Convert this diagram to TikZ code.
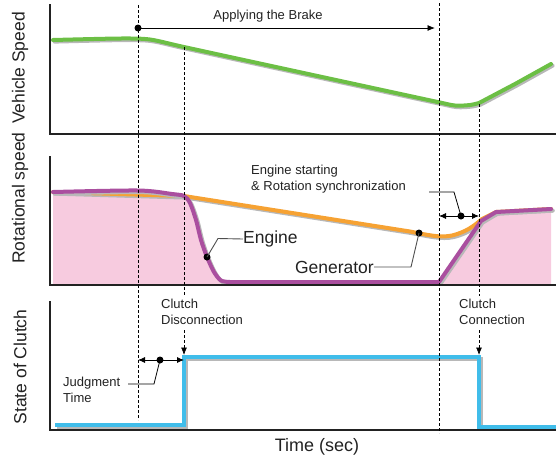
\documentclass[tikz,border=0pt]{standalone}
\usepackage{fontspec}
\setmainfont{Liberation Sans}
\usetikzlibrary{arrows.meta}
\definecolor{speedgreen}{HTML}{6CBF45}
\definecolor{genorange}{HTML}{F6A233}
\definecolor{engpurple}{HTML}{AA4F9F}
\definecolor{fillpink}{HTML}{F7CBDF}
\definecolor{clutchblue}{HTML}{40BDEA}
\definecolor{shadowgray}{HTML}{B8B8B8}
\definecolor{inkgray}{HTML}{222222}
\tikzset{
  axisline/.style={line width=2.4pt, inkgray, line cap=rect},
  guide/.style={line width=0.7pt, black, dash pattern=on 3pt off 2pt},
  curve/.style={line width=4pt, line join=round, line cap=round},
  shade/.style={curve, shadowgray, shift={(1.6,1.6)}},
  leader/.style={line width=0.9pt, inkgray!80},
  tip/.style={-{Latex[length=7.5pt,width=6pt]}},
  twotip/.style={{Latex[length=7pt,width=6pt]}-{Latex[length=7pt,width=6pt]}, line width=0.8pt},
  dot/.style={circle, fill=black, inner sep=0pt, minimum size=7pt},
  small/.style={font=\fontsize{13}{15.5}\selectfont, text=inkgray, inner sep=0pt},
  big/.style={font=\fontsize{17.5}{20}\selectfont, text=inkgray, inner sep=0pt},
  ylab/.style={font=\fontsize{17.5}{20}\selectfont, text=inkgray, rotate=90, inner sep=0pt},
}
\begin{document}
\begin{tikzpicture}[x=1pt, y=-1pt]
\useasboundingbox (0,0) rectangle (556,459);

% ---------- curve paths ----------
\def\speedpath{plot[smooth, tension=0.45] coordinates {(53,40) (120,38.5) (150,39.5) (184,47) (276,67) (433,101) (455,105.5) (470,105) (479,103)} -- (515,84) -- (551,64)}
\def\enginepath{plot[smooth, tension=0.5] coordinates {(53,192) (138,190.5) (172,194) (184,196) (190,203) (196,220) (201,240) (207,257) (214,272) (221,280.5) (230,282)} -- (439,282) -- (481,221) -- (496,212) -- (551,209)}
\def\genpath{(53,192) -- (184,196) -- (410,231.5) .. controls (428,235) and (440,238) .. (452,235.5) .. controls (466,232) and (474,226) .. (482,219) -- (496,212) -- (551,209)}

% ---------- Vehicle speed panel ----------
\draw[shade] \speedpath;
\draw[curve, speedgreen] \speedpath;

% ---------- Rotational speed panel ----------
\fill[fillpink] \enginepath -- (551,285) -- (53,285) -- cycle;
\draw[shade] \genpath;
\draw[curve, genorange] \genpath;
\draw[shade] \enginepath;
\draw[curve, engpurple] \enginepath;

% ---------- Clutch panel ----------
\draw[curve, shadowgray, line cap=butt, line join=miter, shift={(1.6,1.6)}] (55,425) -- (184,425) -- (184,357) -- (479,357) -- (479,427) -- (556,427);

% ---------- axes ----------
\draw[axisline] (50,5) -- (50,134) -- (556,134);
\draw[axisline] (50,157) -- (50,285) -- (556,285);
\draw[axisline] (50,302) -- (50,430) -- (556,430);

\draw[curve, clutchblue, line cap=butt, line join=miter] (55,425) -- (184,425) -- (184,357) -- (479,357) -- (479,427) -- (556,427);

% ---------- timing guides ----------
\draw[guide] (138,5) -- (138,420);
\draw[guide] (184,47) -- (184,296);
\draw[guide] (439,3) -- (439,433);
\draw[guide] (479,104) -- (479,296);
\coordinate (discA) at (184,330);
\coordinate (discB) at (184,355);
\coordinate (connA) at (479,330);
\coordinate (connB) at (479,355);
\draw[guide, tip] (discA) -- (discB);
\draw[guide, tip] (connA) -- (connB);

% ---------- braking interval ----------
\node[dot] (brakeDot) at (138,28) {};
\coordinate (brakeEnd) at (435,28);
\draw[line width=0.8pt, tip] (brakeDot.center) -- (brakeEnd);
\node[small] (brake) at (268,16) {Applying the Brake};

% ---------- engine / generator labels ----------
\node[dot] (engDot) at (207,257) {};
\node[big, anchor=west] (engine) at (243,239) {Engine};
\draw[leader] (engDot.center) -- (218,238.5) -- (engine.west);

\node[dot] (genDot) at (419,233) {};
\node[big, anchor=east] (generator) at (374,267) {Generator};
\draw[leader] (genDot.center) -- (411,267) -- (generator.east);

% ---------- synchronization interval ----------
\coordinate (syncL) at (439,216);
\coordinate (syncR) at (479,216);
\draw[twotip] (syncL) -- (syncR);
\node[dot] (syncDot) at (461,216) {};
\node[small, anchor=north west, align=left] (sync) at (251,165) {Engine starting\\\& Rotation synchronization};
\draw[line width=0.8pt] (syncDot.center) -- (454,192) -- (429,192);

% ---------- judgment interval ----------
\coordinate (judgeL) at (138,360);
\coordinate (judgeR) at (184,360);
\draw[twotip] (judgeL) -- (judgeR);
\node[dot] (judgeDot) at (160,360) {};
\node[small, anchor=north west, align=left] (judge) at (63,377) {Judgment\\Time};
\draw[line width=0.8pt] (judgeDot.center) -- (154,384) -- (128,384);

% ---------- clutch event labels ----------
\node[small, anchor=north west, align=left] (disc) at (161,299) {Clutch\\Disconnection};
\node[small, anchor=north west, align=left] (conn) at (459,299) {Clutch\\Connection};

% ---------- axis titles ----------
\node[ylab] (vs) at (20,68) {Vehicle Speed};
\node[ylab] (rs) at (20,198) {Rotational speed};
\node[ylab] (sc) at (20,367) {State of Clutch};
\node[big, font=\fontsize{18}{20}\selectfont] (time) at (317,447) {Time (sec)};
\end{tikzpicture}
\end{document}
